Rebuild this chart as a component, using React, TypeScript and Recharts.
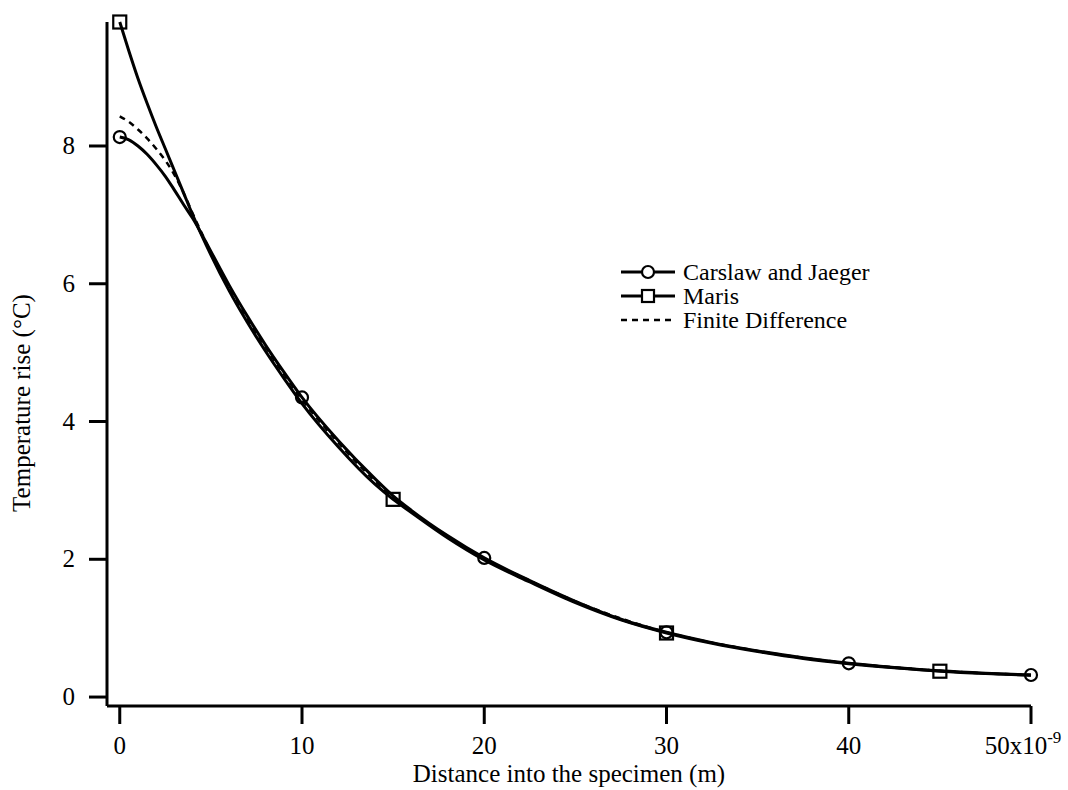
import React from 'react';
import { LineChart, Line, XAxis, YAxis } from 'recharts';

// distance (x1e-9 m) and temperature rise (°C)
const distance = [0, 0.5, 1, 1.5, 2, 2.5, 3, 3.5, 4, 5, 6, 7, 8, 9, 10, 12, 14, 15, 16, 18, 20, 22.5, 25, 27.5, 30, 32.5, 35, 37.5, 40, 42.5, 45, 47.5, 50];
const carslaw = [8.13, 8.09, 8.0, 7.88, 7.73, 7.56, 7.36, 7.15, 6.95, 6.47, 5.98, 5.53, 5.11, 4.72, 4.35, 3.72, 3.17, 2.92, 2.71, 2.34, 2.02, 1.69, 1.39, 1.13, 0.94, 0.79, 0.67, 0.57, 0.49, 0.43, 0.38, 0.345, 0.32];
const maris = [9.8, 9.38, 8.98, 8.62, 8.28, 7.96, 7.64, 7.32, 7.0, 6.42, 5.9, 5.44, 5.02, 4.63, 4.26, 3.63, 3.09, 2.87, 2.68, 2.31, 1.99, 1.67, 1.37, 1.12, 0.93, 0.78, 0.66, 0.56, 0.485, 0.425, 0.375, 0.34, 0.315];
const finiteDiff = [8.43, 8.35, 8.24, 8.11, 7.96, 7.79, 7.58, 7.32, 7.02, 6.46, 5.96, 5.5, 5.08, 4.69, 4.32, 3.69, 3.14, 2.9, 2.7, 2.33, 2.01, 1.69, 1.39, 1.14, 0.94, 0.79, 0.67, 0.57, 0.49, 0.43, 0.38, 0.345, 0.32];

const carslawMarks = [0, 10, 20, 30, 40, 50];
const marisMarks = [0, 15, 30, 45];

const xTicks = [0, 10, 20, 30, 40, 50];
const yTicks = [0, 2, 4, 6, 8];

const FONT = '"Liberation Serif", "Times New Roman", serif';

const data = distance.map((x, i) => ({
  x,
  carslaw: carslaw[i],
  maris: maris[i],
  finite: finiteDiff[i]
}));

const CircleDot = (props: any) => {
  const { cx, cy, payload, index } = props;
  if (!carslawMarks.includes(payload.x)) return <g key={`c${index}`} />;
  return <circle key={`c${index}`} cx={cx} cy={cy} r={6} fill="none" stroke="#000" strokeWidth={2.2} />;
};

const SquareDot = (props: any) => {
  const { cx, cy, payload, index } = props;
  if (!marisMarks.includes(payload.x)) return <g key={`s${index}`} />;
  return <rect key={`s${index}`} x={cx - 6.5} y={cy - 6.5} width={13} height={13} fill="none" stroke="#000" strokeWidth={2.2} />;
};

const XTick = (props: any) => {
  const { x, y, payload } = props;
  if (payload.value === 50) {
    return (
      <text x={x - 8} y={y + 28} textAnchor="middle" fontFamily={FONT} fontSize={25} fill="#000">
        50x10<tspan dy={-11} fontSize={17}>-9</tspan>
      </text>
    );
  }
  return (
    <text x={x} y={y + 28} textAnchor="middle" fontFamily={FONT} fontSize={25} fill="#000">
      {payload.value}
    </text>
  );
};

const YTick = (props: any) => {
  const { x, y, payload } = props;
  return (
    <text x={x - 12} y={y + 8} textAnchor="end" fontFamily={FONT} fontSize={25} fill="#000">
      {payload.value}
    </text>
  );
};

// y title sits a bit lower than the plot middle in the original
const YTitle = () => (
  <text x={0} y={0} transform="translate(30, 403) rotate(-90)" textAnchor="middle" fontFamily={FONT} fontSize={25} fill="#000">
    Temperature rise (°C)
  </text>
);

const legendRows = [
  { label: 'Carslaw and Jaeger', kind: 'circle' },
  { label: 'Maris', kind: 'square' },
  { label: 'Finite Difference', kind: 'dash' }
];

const LegendBox = () => (
  <svg width={270} height={80} style={{ position: 'absolute', left: 615, top: 255 }}>
    {legendRows.map((r, i) => {
      const cy = 17 + i * 24;
      return (
        <g key={r.label}>
          <line x1={6} x2={60} y1={cy} y2={cy} stroke="#000" strokeWidth={r.kind === 'dash' ? 2.5 : 3} strokeDasharray={r.kind === 'dash' ? '6 5' : undefined} />
          {r.kind === 'circle' && <circle cx={33} cy={cy} r={6} fill="#fff" stroke="#000" strokeWidth={2.2} />}
          {r.kind === 'square' && <rect x={27} y={cy - 6} width={12} height={12} fill="#fff" stroke="#000" strokeWidth={2.2} />}
          <text x={68} y={cy + 8} fontFamily={FONT} fontSize={24} fill="#000">{r.label}</text>
        </g>
      );
    })}
  </svg>
);

export default function App() {
  return (
    <div style={{ position: 'absolute', left: 0, top: 0, width: 1068, height: 790, background: '#fff' }}>
      <LineChart width={1068} height={790} data={data} margin={{ top: 22, right: 37, bottom: 0, left: 0 }}>
        <XAxis
          type="number"
          dataKey="x"
          domain={[-0.7, 50]}
          ticks={xTicks}
          tickSize={18}
          tickMargin={2}
          axisLine={{ stroke: '#000', strokeWidth: 3 }}
          tickLine={{ stroke: '#000', strokeWidth: 3 }}
          tick={<XTick />}
          height={84}
          label={{ value: 'Distance into the specimen (m)', position: 'insideBottom', offset: 8, style: { fontFamily: FONT, fontSize: 25, fill: '#000' } }}
        />
        <YAxis
          type="number"
          domain={[-0.13, 9.8]}
          ticks={yTicks}
          tickSize={18}
          tickMargin={2}
          width={107}
          axisLine={{ stroke: '#000', strokeWidth: 3 }}
          tickLine={{ stroke: '#000', strokeWidth: 3 }}
          tick={<YTick />}
          label={{ content: () => <YTitle /> }}
        />
        <Line type="monotone" dataKey="finite" stroke="#000" strokeWidth={2.5} strokeDasharray="6 5" dot={false} isAnimationActive={false} />
        <Line type="monotone" dataKey="maris" stroke="#000" strokeWidth={3} dot={<SquareDot />} isAnimationActive={false} />
        <Line type="monotone" dataKey="carslaw" stroke="#000" strokeWidth={3} dot={<CircleDot />} isAnimationActive={false} />
      </LineChart>
      <LegendBox />
    </div>
  );
}
